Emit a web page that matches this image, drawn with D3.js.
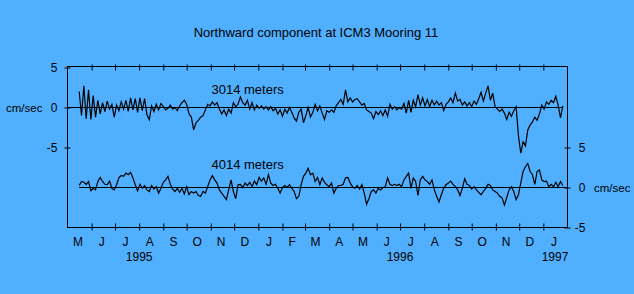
<!DOCTYPE html>
<html>
<head>
<meta charset="utf-8">
<script src="https://cdn.jsdelivr.net/npm/d3@7"></script>
<style>
  body { margin: 0; background: #50b0ff; }
  svg { display: block; }
  text { font-family: "Liberation Sans", Arial, sans-serif; fill: #000; }
</style>
</head>
<body>
<script>
var width = 634, height = 294;

// sampled every 3 days from the first record
var startDate = new Date(1995, 4, 16);
var stepDays = 3;

// cm/sec, 3014 m
var north3014 = [
  2.0, -1.0, 2.7, -1.4, 2.2, -1.5, 1.5, -1.2, 0.9, -0.8,
  0.6, -0.5, 0.8, -0.2, 0.4, -1.2, 0.3, -0.4, 0.7, -0.2,
  0.9, -0.5, 1.2, -0.3, 1.1, -0.6, 1.2, -0.4, 1.1, -0.9,
  -1.5, 0.2, -0.5, 0.4, -0.3, 0.5, 0.1, -0.3, -0.1, 0.3,
  -0.2, 0.0, -0.4, 0.2, 0.6, 0.9, 0.4, -0.8, -1.2, -2.8,
  -1.9, -1.6, -1.2, -1.0, -0.3, 0.4, 0.2, 0.7, 0.3, 0.6,
  -0.2, -0.8, -0.3, -1.0, -0.2, -0.7, 0.6, 0.1, 0.4, 1.3,
  0.6, 0.3, 0.9, -0.2, 0.6, -0.3, 0.3, -0.1, 0.2, -0.2,
  0.1, -0.3, 0.1, -0.4, -0.1, -0.8, -0.3, -1.1, -0.2, -0.7,
  0.0, -0.6, -1.3, -1.7, -0.6, -0.2, -1.9, -1.0, 0.0, -1.2,
  -0.6, 0.4, -0.4, 0.2, -0.7, -1.5, -0.4, -0.6, -0.3, -0.6,
  0.2, 0.6, 1.0, 0.4, 2.2, 0.7, 1.2, 0.7, 1.0, 1.1,
  0.7, 0.3, 0.5, -0.3, -0.5, -0.7, -1.4, -0.5, -0.9, -0.4,
  -1.0, -0.3, -1.1, 0.4, -0.2, 0.1, -0.3, 0.0, -0.2, 0.5,
  -0.7, 0.9, -0.6, 0.9, 0.1, 1.6, 0.3, 1.2, 0.2, 1.0,
  0.1, 0.9, 0.3, 0.8, 0.3, 0.6, -0.4, 0.4, 0.7, 1.2,
  0.6, 1.8, 0.8, 1.0, 0.3, 0.7, 0.2, 0.6, 0.1, 0.8,
  0.4, 1.1, 1.9, 0.8, 1.8, 2.7, 0.9, 1.8, 0.1, -0.2,
  -0.5, -0.2, -0.7, -1.5, -0.6, -1.1, -0.4, 0.1, -3.5, -5.7,
  -4.3, -4.8, -2.8, -2.2, -1.8, -1.2, -1.6, -0.8, 0.3, -0.2,
  0.7, 0.4, 0.9, 0.6, 1.4, 0.3, -1.3, 0.2
];

// cm/sec, 4014 m
var north4014 = [
  0.25, 0.75, 0.65, 0.4, 0.75, -0.4, -0.1, -0.3, 0.75, 1.25,
  0.75, 0.4, 0.35, 0.8, -0.1, -0.3, 0.35, 1.2, 1.5, 1.4,
  1.8, 1.6, 1.9, 1.2, 0.35, -0.4, 0.4, -0.1, 0.25, -0.3,
  -0.5, 0.25, -0.2, 0.1, -0.7, -0.1, 0.65, 0.95, 1.4, 0.4,
  -0.2, -0.5, -0.1, -0.6, -0.1, -0.8, 0.1, -0.9, -0.5, -0.7,
  -0.5, -1.0, -1.1, -0.5, -0.7, 0.1, 0.95, 1.5, 0.95, 0.55,
  -0.3, -0.7, -1.1, -1.5, -0.3, 0.95, -0.5, -1.4, 0.35, 0.4,
  0.0, 0.55, 0.25, 0.65, 0.1, 0.8, 0.35, 1.25, 0.8, 1.2,
  0.4, 1.6, 0.55, 0.25, 0.4, -0.1, -0.7, 0.0, 0.25, 0.0,
  0.35, -0.1, -0.5, -1.4, -1.1, 0.35, 1.4, 1.8, 2.4, 1.6,
  1.8, 0.75, 1.25, 0.35, 1.2, 0.65, 0.35, 0.1, 0.55, -0.7,
  -0.1, 0.25, 0.25, 0.4, 1.2, 1.25, 0.55, 0.1, -0.1, 0.25,
  -0.2, 0.35, -0.7, -2.1, -1.4, -0.5, -0.3, -0.7, -0.1, -0.3,
  0.0, 0.1, 1.2, 0.4, 0.25, 0.4, 0.25, 0.4, 0.1, 0.95,
  1.4, 1.8, -0.1, 1.2, 0.75, -1.0, 0.95, 1.4, 0.95, 0.75,
  0.4, 0.95, -0.3, -1.1, -1.8, -0.9, -0.1, 0.35, 0.55, 0.8,
  0.4, 0.1, -0.3, -1.0, -0.1, 1.1, 0.4, 0.25, -0.2, 0.1,
  -0.3, -0.6, -0.9, -0.5, -0.1, 0.4, 0.25, -0.3, -0.5, -0.7,
  -1.1, -1.3, -2.2, -1.25, -0.3, 0.1, -0.5, -1.5, -0.9, 0.55,
  2.0, 2.6, 3.0, 2.0, 1.6, 0.4, 2.0, 2.2, 0.95, 0.75,
  0.8, 0.1, 0.4, 0.1, 0.65, 0.1, 0.75, 0.25
];

var monthLabels = ["M","J","J","A","S","O","N","D","J","F","M","A","M","J","J","A","S","O","N","D","J"];
var yearLabels = [
  {label: "1995", date: new Date(1995, 7, 1)},
  {label: "1996", date: new Date(1996, 6, 1)},
  {label: "1997", date: new Date(1997, 0, 16)}
];
var yTicks = [5, 0, -5];

var svg = d3.select("body").append("svg")
    .attr("width", width)
    .attr("height", height);

var x = d3.scaleTime()
    .domain([new Date(1995, 4, 1), new Date(1997, 1, 1)])
    .range([67.5, 567.5]);

var yTop = d3.scaleLinear().domain([-5, 5]).range([147.5, 67.5]);
var yBot = d3.scaleLinear().domain([-5, 5]).range([227.5, 147.5]);

function toSeries(vals) {
    return vals.map(function(v, i) {
        return {date: d3.timeDay.offset(startDate, i * stepDays), v: v};
    });
}
var s3014 = toSeries(north3014);
var s4014 = toSeries(north4014);
var firstDate = s3014[0].date, lastDate = s3014[s3014.length - 1].date;

// title
svg.append("text")
    .attr("x", 316).attr("y", 37)
    .attr("text-anchor", "middle")
    .style("font-size", "13px")
    .text("Northward component at ICM3 Mooring 11");

// frame
svg.append("rect")
    .attr("x", 67.5).attr("y", 66.5)
    .attr("width", 500).attr("height", 161)
    .attr("fill", "none").attr("stroke", "#000");

// month ticks on top and bottom
var monthTicks = d3.timeMonth.range(new Date(1995, 5, 1), new Date(1997, 0, 2));

var topAxis = svg.append("g")
    .attr("transform", "translate(0,66.5)")
    .call(d3.axisBottom(x).tickValues(monthTicks).tickFormat("").tickSizeOuter(0));
topAxis.select(".domain").remove();
topAxis.selectAll("line").attr("y1", -2).attr("y2", 4).attr("stroke", "#000");

var botAxis = svg.append("g")
    .attr("transform", "translate(0,227.5)")
    .call(d3.axisBottom(x).tickValues(monthTicks).tickFormat("").tickSizeOuter(0));
botAxis.select(".domain").remove();
botAxis.selectAll("line").attr("y1", -4).attr("y2", 3).attr("stroke", "#000");

// month letters
var monthStarts = d3.timeMonth.range(new Date(1995, 4, 1), new Date(1997, 1, 1));
svg.append("g").selectAll("text")
    .data(monthStarts)
    .enter().append("text")
    .attr("x", function(d) { return (x(d) + x(d3.timeMonth.offset(d, 1))) / 2 - 1.5; })
    .attr("y", 246)
    .attr("text-anchor", "middle")
    .style("font-size", "12px")
    .text(function(d, i) { return monthLabels[i]; });

svg.append("g").selectAll("text")
    .data(yearLabels)
    .enter().append("text")
    .attr("x", function(d) { return x(d.date); })
    .attr("y", 261)
    .attr("text-anchor", "middle")
    .style("font-size", "12px")
    .text(function(d) { return d.label; });

// left axis (3014 m)
var leftAxis = svg.append("g")
    .attr("transform", "translate(67.5,0)")
    .call(d3.axisLeft(yTop).tickValues(yTicks).tickFormat(String).tickSize(3).tickSizeOuter(0));
leftAxis.select(".domain").remove();
leftAxis.selectAll("line").attr("x1", 3).attr("x2", -3).attr("stroke", "#000");
leftAxis.selectAll("text")
    .attr("x", -10).attr("dy", "0.35em")
    .style("font-size", "12px")
    .style("font-family", "'Liberation Sans', Arial, sans-serif");

// right axis (4014 m)
var rightAxis = svg.append("g")
    .attr("transform", "translate(567.5,0)")
    .call(d3.axisRight(yBot).tickValues(yTicks).tickFormat(String).tickSize(3).tickSizeOuter(0));
rightAxis.select(".domain").remove();
rightAxis.selectAll("line").attr("x1", -3).attr("x2", 3).attr("stroke", "#000");
rightAxis.selectAll("text")
    .attr("x", 18).attr("dy", "0.35em")
    .attr("text-anchor", "end")
    .style("font-size", "12px")
    .style("font-family", "'Liberation Sans', Arial, sans-serif");

svg.append("text")
    .attr("x", 6).attr("y", yTop(0)).attr("dy", "0.35em")
    .style("font-size", "11.5px")
    .text("cm/sec");
svg.append("text")
    .attr("x", 594).attr("y", yBot(0)).attr("dy", "0.35em")
    .style("font-size", "11.5px")
    .text("cm/sec");

// zero lines
svg.append("line")
    .attr("x1", 67.5).attr("x2", x(lastDate))
    .attr("y1", yTop(0)).attr("y2", yTop(0))
    .attr("stroke", "#000");
svg.append("line")
    .attr("x1", x(firstDate)).attr("x2", 567.5)
    .attr("y1", yBot(0)).attr("y2", yBot(0))
    .attr("stroke", "#000");

// series
var lineTop = d3.line()
    .x(function(d) { return x(d.date); })
    .y(function(d) { return yTop(d.v); });
var lineBot = d3.line()
    .x(function(d) { return x(d.date); })
    .y(function(d) { return yBot(d.v); });

svg.append("path")
    .datum(s3014)
    .attr("d", lineTop)
    .attr("fill", "none").attr("stroke", "#000").attr("stroke-width", 1.2);
svg.append("path")
    .datum(s4014)
    .attr("d", lineBot)
    .attr("fill", "none").attr("stroke", "#000").attr("stroke-width", 1.2);

// depth labels
svg.append("text")
    .attr("x", 211.5).attr("y", 94)
    .style("font-size", "13px")
    .text("3014 meters");
svg.append("text")
    .attr("x", 211.5).attr("y", 168.5)
    .style("font-size", "13px")
    .text("4014 meters");
</script>
</body>
</html>
